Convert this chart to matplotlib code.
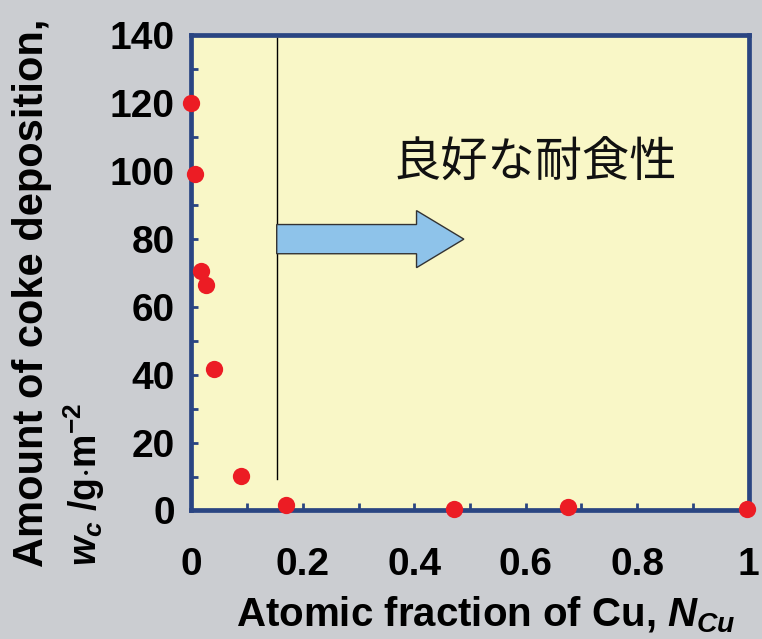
import matplotlib.pyplot as plt
from matplotlib.patches import Polygon

# data
cu_frac = [0.0, 0.006, 0.017, 0.026, 0.040, 0.089, 0.170, 0.471, 0.676, 0.997]
coke = [120.0, 99.0, 70.5, 66.4, 41.7, 10.2, 1.6, 0.4, 1.0, 0.4]
xticks = [0, 0.2, 0.4, 0.6, 0.8, 1]
xticklabels = ['0', '0.2', '0.4', '0.6', '0.8', '1']
yticks = [0, 20, 40, 60, 80, 100, 120, 140]
boundary = 0.153
note = '良好な耐食性'

plt.rcParams['font.family'] = ['Liberation Sans', 'DejaVu Sans']
plt.rcParams['mathtext.fontset'] = 'custom'
plt.rcParams['mathtext.rm'] = 'Liberation Sans:bold'
plt.rcParams['mathtext.it'] = 'Liberation Sans:italic:bold'
plt.rcParams['mathtext.bf'] = 'Liberation Sans:bold'

navy = '#2a4582'
fig = plt.figure(figsize=(7.62, 6.39), dpi=100, facecolor='#cbcdd1')
ax = fig.add_axes([0.2513, 0.2011, 0.731, 0.7441])
ax.set_facecolor('#f9f7c7')

ax.scatter(cu_frac, coke, s=155, color='#ec1c24', zorder=5, clip_on=False, linewidths=0)

# boundary line and arrow
ax.plot([boundary, boundary], [9.3, 139], color='black', lw=1.0, zorder=3)
arrow = Polygon([(boundary, 84.2), (0.404, 84.2), (0.404, 88.3), (0.489, 79.9),
                 (0.404, 71.5), (0.404, 75.6), (boundary, 75.6)],
                closed=True, facecolor='#8ec3ea', edgecolor='#333333', lw=1.0, zorder=4)
ax.add_patch(arrow)
ax.text(0.618, 102.3, note, fontsize=34, ha='center', va='center',
        family=['Noto Sans CJK JP', 'DejaVu Sans'], color='#111111')

ax.set_xlim(0, 1)
ax.set_ylim(0, 140)
ax.set_xticks(xticks)
ax.set_xticklabels(xticklabels)
ax.set_xticks([i / 10 for i in range(1, 10)], minor=True)
ax.set_yticks(yticks)
ax.set_yticks(list(range(10, 140, 20)), minor=True)

for s in ax.spines.values():
    s.set_color(navy)
    s.set_linewidth(3.4)

ax.tick_params(which='both', direction='in', length=5, width=2, color=navy,
               top=False, right=False)
ax.tick_params(axis='x', which='major', pad=26, labelsize=28)
ax.tick_params(axis='y', which='major', pad=12, labelsize=28)
for lab in ax.get_xticklabels() + ax.get_yticklabels():
    lab.set_fontweight('bold')

fig.text(0.638, 0.019, 'Atomic fraction of Cu, $N_{Cu}$', fontsize=29,
         fontweight='bold', ha='center', va='baseline')
fig.text(0.016, 0.113, 'Amount of coke deposition,', fontsize=30, fontweight='bold',
         rotation=90, ha='left', va='bottom')
fig.text(0.080, 0.115, '$w_c$ /g$\\cdot$m$^{\\mathrm{-2}}$', fontsize=27, fontweight='bold',
         rotation=90, ha='left', va='bottom')

fig.savefig('out.png', dpi=100, facecolor=fig.get_facecolor())
